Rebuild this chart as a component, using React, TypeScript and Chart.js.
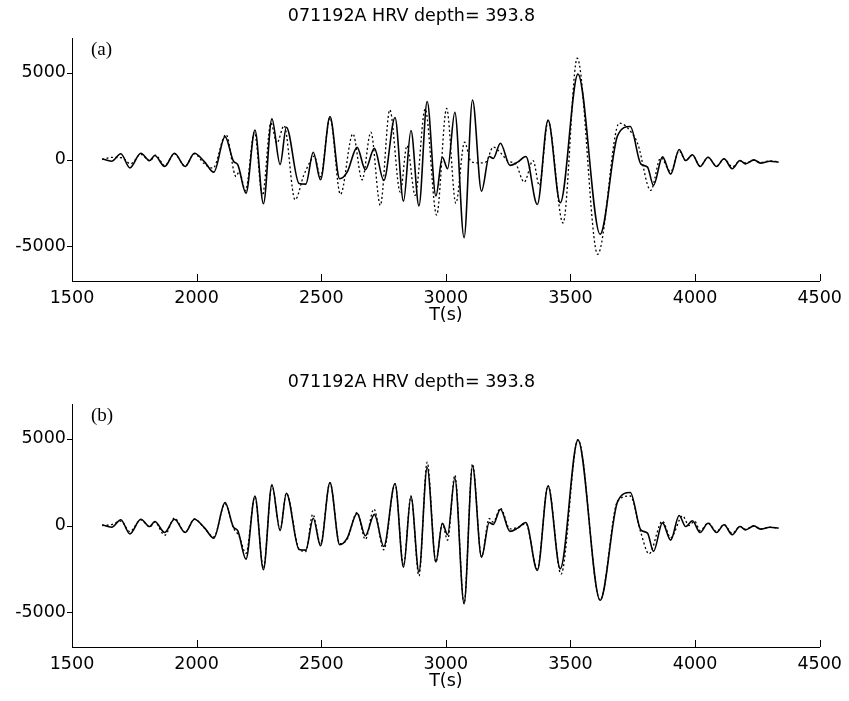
import React, { useEffect, useRef } from "react";
import { Chart, registerables } from "chart.js";

Chart.register(...registerables);

// ---- data ----
const TITLE = "071192A HRV depth= 393.8";
const X_TICKS = [1500, 2000, 2500, 3000, 3500, 4000, 4500];
const Y_TICKS = [-5000, 0, 5000];

// observed trace (solid), same in both panels
const obsT = [1621, 1659, 1696, 1732, 1776, 1812, 1832, 1872, 1911, 1954, 1991, 2031, 2069, 2114, 2148, 2165, 2198, 2234, 2268, 2302, 2335, 2360, 2411, 2438, 2468, 2497, 2535, 2574, 2604, 2644, 2677, 2713, 2751, 2796, 2830, 2860, 2892, 2925, 2960, 2986, 3007, 3036, 3073, 3107, 3143, 3174, 3190, 3219, 3257, 3288, 3321, 3367, 3410, 3459, 3530, 3619, 3689, 3740, 3782, 3809, 3833, 3869, 3902, 3936, 3962, 3989, 4020, 4052, 4086, 4116, 4149, 4180, 4202, 4236, 4262, 4300, 4335];
const obsV = [40, -100, 330, -480, 360, -60, 230, -400, 360, -400, 360, -120, -730, 1320, -100, -300, -1940, 1700, -2550, 2340, -290, 1860, -1380, -1420, 420, -1170, 2470, -1110, -730, 700, -590, 640, -1210, 2420, -2400, 1670, -2670, 3340, -2100, 130, -530, 2720, -4500, 3430, -1820, 170, 60, 940, -340, -150, 170, -2590, 2280, -2490, 4920, -4310, 1380, 1900, -250, -440, -1490, 150, -840, 580, -60, 270, -400, 130, -400, 40, -530, -60, -250, -20, -210, -100, -150];

// synthetic trace, panel (a) (dotted)
const synAT = [1621, 1659, 1700, 1735, 1776, 1812, 1835, 1872, 1911, 1954, 1991, 2031, 2065, 2118, 2158, 2171, 2196, 2232, 2264, 2298, 2322, 2351, 2395, 2430, 2455, 2472, 2497, 2535, 2577, 2627, 2664, 2699, 2737, 2775, 2817, 2844, 2877, 2917, 2963, 3003, 3040, 3075, 3100, 3130, 3160, 3190, 3225, 3250, 3280, 3314, 3350, 3375, 3410, 3470, 3527, 3609, 3696, 3745, 3770, 3822, 3862, 3902, 3936, 3962, 3989, 4020, 4052, 4086, 4116, 4149, 4180, 4202, 4236, 4262, 4300, 4335];
const synAV = [0, 120, 100, -250, 300, -80, 250, -350, 330, -380, 330, -250, -500, 1440, -980, -700, -1800, 1560, -2070, 2100, 950, 1950, -2320, -900, -150, 200, -1000, 2400, -2010, 1480, -1170, 1570, -2640, 2860, -1880, 800, -2070, 2910, -3200, 2940, -2520, 1000, -100, -200, -150, 710, 300, -100, -250, -1300, -60, -1500, 2200, -3660, 5840, -5460, 2100, 1550, 900, -1780, 100, -700, 500, -60, 250, -380, 120, -380, 30, -420, -80, -200, -50, -170, -80, -130];

// synthetic trace, panel (b) (dotted)
const synBT = [1621, 1659, 1696, 1732, 1776, 1812, 1832, 1872, 1911, 1954, 1991, 2031, 2069, 2114, 2148, 2170, 2198, 2234, 2268, 2302, 2335, 2360, 2411, 2438, 2466, 2497, 2535, 2574, 2604, 2644, 2677, 2711, 2751, 2796, 2830, 2860, 2892, 2925, 2960, 2986, 3007, 3036, 3073, 3107, 3143, 3174, 3190, 3219, 3257, 3290, 3321, 3367, 3410, 3462, 3530, 3619, 3689, 3740, 3782, 3815, 3869, 3902, 3950, 3975, 3998, 4020, 4052, 4086, 4116, 4149, 4180, 4202, 4236, 4262, 4300, 4335];
const synBV = [0, 50, 250, -350, 330, -80, 200, -560, 420, -380, 380, -150, -650, 1250, -150, -600, -1600, 1650, -2450, 2300, -250, 1850, -1350, -1500, 650, -1050, 2450, -1050, -800, 750, -800, 950, -1400, 2400, -2300, 1700, -2900, 3650, -2100, 100, -850, 2900, -4500, 3550, -1800, 400, 200, 1000, -200, -100, 100, -2500, 2300, -2800, 4950, -4300, 1400, 1700, -400, -1630, 250, -700, 550, 0, 250, -300, 150, -350, 50, -450, -50, -220, -30, -200, -100, -150];

const toXY = (t: number[], v: number[]) => t.map((x, i) => ({ x, y: v[i] }));

const FONT = "DejaVu Sans";

const decorPlugin = {
  id: "decor",
  afterDraw(chart: any) {
    const { ctx, chartArea, scales } = chart;
    const xs = scales.x;
    const ys = scales.y;
    ctx.save();
    ctx.strokeStyle = "#000";
    ctx.lineWidth = 1;
    ctx.beginPath();
    xs.ticks.forEach((t: any) => {
      const px = Math.round(xs.getPixelForValue(t.value)) + 0.5;
      ctx.moveTo(px, chartArea.bottom);
      ctx.lineTo(px, chartArea.bottom - 7);
    });
    ys.ticks.forEach((t: any) => {
      const py = Math.round(ys.getPixelForValue(t.value)) + 0.5;
      ctx.moveTo(chartArea.left - 5, py);
      ctx.lineTo(chartArea.left, py);
    });
    ctx.stroke();
    const label = chart.options.plugins.decor?.label;
    if (label) {
      ctx.fillStyle = "#000";
      ctx.font = '19px "Liberation Serif"';
      ctx.textBaseline = "middle";
      ctx.textAlign = "left";
      ctx.fillText(label, chartArea.left + 19, chartArea.top + 12);
    }
    ctx.restore();
  },
};

function makeConfig(label: string, dotted: { x: number; y: number }[]) {
  return {
    type: "line" as const,
    data: {
      datasets: [
        {
          data: toXY(obsT, obsV),
          borderColor: "#000",
          borderWidth: 1.6,
          pointRadius: 0,
          cubicInterpolationMode: "monotone" as const,
          fill: false,
        },
        {
          data: dotted,
          borderColor: "#000",
          borderWidth: 1.3,
          borderDash: [2, 2.5],
          pointRadius: 0,
          cubicInterpolationMode: "monotone" as const,
          fill: false,
        },
      ],
    },
    options: {
      animation: false as const,
      responsive: true,
      maintainAspectRatio: false,
      layout: { padding: { top: 0, left: 0, right: 26, bottom: 0 } },
      plugins: {
        legend: { display: false },
        tooltip: { enabled: false },
        title: {
          display: true,
          text: TITLE,
          color: "#000",
          font: { family: FONT, size: 17.5, weight: "normal" as const },
          padding: { top: 6, bottom: 11 },
        },
        decor: { label },
      },
      scales: {
        x: {
          type: "linear" as const,
          min: 1500,
          max: 4500,
          afterBuildTicks: (s: any) => {
            s.ticks = X_TICKS.map((value) => ({ value }));
          },
          afterFit: (s: any) => {
            s.height = 54;
          },
          ticks: {
            color: "#000",
            font: { family: FONT, size: 17.5 },
            padding: 7,
            maxRotation: 0,
            autoSkip: false,
            callback: (v: any) => String(v),
          },
          grid: { display: false, drawTicks: false },
          border: { display: true, color: "#000", width: 1 },
          title: {
            display: true,
            text: "T(s)",
            color: "#000",
            font: { family: FONT, size: 17.5 },
            padding: { top: 0, bottom: 9.5 },
          },
        },
        y: {
          type: "linear" as const,
          min: -7000,
          max: 7000,
          afterBuildTicks: (s: any) => {
            s.ticks = Y_TICKS.map((value) => ({ value }));
          },
          afterFit: (s: any) => {
            s.width = 72;
          },
          ticks: {
            color: "#000",
            font: { family: FONT, size: 17.5 },
            padding: 6,
            callback: (v: any) => String(v),
          },
          grid: { display: false, drawTicks: false },
          border: { display: true, color: "#000", width: 1 },
        },
      },
    },
    plugins: [decorPlugin],
  };
}

function Panel({ top, label, dotted }: { top: number; label: string; dotted: { x: number; y: number }[] }) {
  const ref = useRef<HTMLCanvasElement>(null);
  useEffect(() => {
    if (!ref.current) return;
    const chart = new Chart(ref.current, makeConfig(label, dotted) as any);
    return () => chart.destroy();
  }, []);
  return (
    <div style={{ position: "absolute", left: 0, top, width: 849, height: 335 }}>
      <canvas ref={ref} />
    </div>
  );
}

export default function App() {
  return (
    <div style={{ position: "absolute", left: 0, top: 0, width: 849, height: 701, background: "#fff" }}>
      <Panel top={0} label="(a)" dotted={toXY(synAT, synAV)} />
      <Panel top={366} label="(b)" dotted={toXY(synBT, synBV)} />
    </div>
  );
}
